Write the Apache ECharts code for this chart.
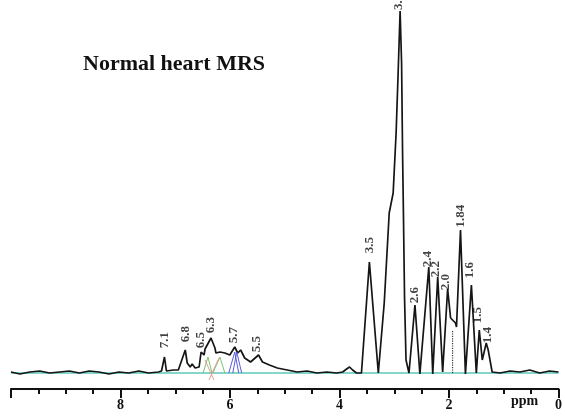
<!DOCTYPE html>
<html>
<head>
<meta charset="utf-8">
<script src="https://cdn.jsdelivr.net/npm/echarts/dist/echarts.min.js"></script>
<style>
  html, body { margin: 0; padding: 0; background: #fff; }
  #chart { width: 565px; height: 417px; }
</style>
</head>
<body>
<div id="chart"></div>
<script>
// spectrum trace, chemical shift (ppm) and intensity
let shift = [10.00, 9.837, 9.656, 9.476, 9.295, 9.114, 8.933, 8.752, 8.571, 8.391,
    8.210, 8.029, 7.848, 7.667, 7.486, 7.306, 7.251, 7.197, 7.161, 7.035,
    6.944, 6.817, 6.781, 6.727, 6.691, 6.637, 6.564, 6.528, 6.474, 6.456,
    6.347, 6.275, 6.257, 6.184, 6.094, 6.004, 5.913, 5.859, 5.805, 5.732,
    5.624, 5.479, 5.407, 5.280, 5.136, 4.955, 4.774, 4.593, 4.412, 4.231,
    4.051, 3.942, 3.870, 3.816, 3.761, 3.689, 3.599, 3.454, 3.291, 3.183,
    3.092, 3.020, 2.966, 2.929, 2.893, 2.866, 2.848, 2.830, 2.812, 2.785,
    2.731, 2.622, 2.532, 2.369, 2.297, 2.206, 2.116, 2.025, 1.971, 1.881,
    1.863, 1.790, 1.700, 1.591, 1.501, 1.447, 1.392, 1.320, 1.284, 1.212,
    1.067, 0.886, 0.705, 0.524, 0.344, 0.163, 0.00];
let intensity = [1, -1, 1, 2, 0, 1, 2, 0, 2, 1,
    -1, 1, 0, 2, 0, 1, 2, 16, 2, 3,
    3, 23, 10, 6, 9, 5, 6, 21, 18, 24,
    35, 25, 20, 21, 20, 18, 26, 20, 23, 15,
    11, 18, 11, 8, 5, 3, 1, 2, 0, 1,
    0, 1, 4, 6, 3, 0, 0, 111, 0, 70,
    160, 180, 240, 300, 362, 310, 220, 150, 75, 13,
    0, 68, -1, 106, -1, 96, 1, 84, 55, 50,
    46, 143, -1, 88, 0, 43, 13, 30, 23, 1,
    0, 2, 1, 3, 0, 2, 1];

// peak annotations
let peakText = ['7.1', '6.8', '6.5', '6.3', '5.7', '5.5', '3.5', '3.', '2.6', '2.4',
    '2.2', '2.0', '1.84', '1.6', '1.5', '1.4'];
let peakPpm = [7.197, 6.817, 6.528, 6.347, 5.931, 5.515, 3.454, 2.911, 2.622, 2.387,
    2.242, 2.061, 1.790, 1.627, 1.483, 1.302];
let peakHeight = [33, 39, 33, 48, 38, 29, 128, 368, 78, 114,
    104, 91, 157, 103, 58, 38];

// fitted component lines under the 6.5 - 5.7 ppm region
let greenA = [[6.492, 0], [6.402, 16], [6.329, 0]];
let greenB = [[6.311, 0], [6.184, 16], [6.094, 0]];
let pinkA = [[6.383, -7], [6.203, 15]];
let pinkB = [[6.456, 13], [6.293, -7]];
let blueA = [[6.022, 0], [5.913, 21], [5.841, 0]];
let blueB = [[5.949, 0], [5.877, 21], [5.787, 0]];
let dotted = [[1.935, 0], [1.935, 43]];
let baseline = [[10, 0], [0, 0]];

let myChart = echarts.init(document.getElementById('chart'));
let serif = '"Liberation Serif", "DejaVu Serif", serif';

let trace = shift.map((s, i) => [s, intensity[i]]);
let labels = peakPpm.map((p, i) => [p, peakHeight[i], peakText[i]]);

function segment(data, color) {
    return {
        type: 'line',
        data: data,
        symbol: 'none',
        silent: true,
        lineStyle: { color: color, width: 1 },
        z: 3
    };
}

let option = {
    animation: false,
    backgroundColor: '#fff',
    grid: { left: 11, right: 1, top: 0, bottom: 28 },
    graphic: [{
        type: 'text',
        left: 83,
        top: 53,
        style: { text: 'Normal heart MRS', font: 'bold 22px ' + serif, fill: '#111' }
    }, {
        type: 'text',
        left: 511,
        top: 394,
        style: { text: 'ppm', font: 'bold 14px ' + serif, fill: '#111' }
    }],
    xAxis: {
        type: 'value',
        min: 0,
        max: 10,
        interval: 2,
        inverse: true,
        axisLine: { onZero: false, lineStyle: { color: '#111', width: 2 } },
        axisTick: { length: 9, lineStyle: { color: '#111', width: 2 } },
        minorTick: { show: true, splitNumber: 4, length: 5, lineStyle: { color: '#111', width: 2 } },
        splitLine: { show: false },
        axisLabel: {
            color: '#111',
            fontFamily: serif,
            fontWeight: 'bold',
            fontSize: 14,
            margin: 9,
            formatter: v => (v === 10 ? '' : String(v))
        }
    },
    yAxis: {
        type: 'value',
        show: false,
        min: -16,
        max: 373
    },
    series: [
        {
            type: 'line',
            data: baseline,
            symbol: 'none',
            silent: true,
            lineStyle: { color: '#5cc8b8', width: 1.5 },
            z: 1
        },
        {
            type: 'line',
            data: trace,
            symbol: 'none',
            lineStyle: { color: '#151515', width: 1.7 },
            z: 2
        },
        segment(greenA, '#7cc46c'),
        segment(greenB, '#7cc46c'),
        segment(pinkA, '#e09a9a'),
        segment(pinkB, '#e09a9a'),
        segment(blueA, '#5a5ae0'),
        segment(blueB, '#5a5ae0'),
        {
            type: 'line',
            data: dotted,
            symbol: 'none',
            silent: true,
            lineStyle: { color: '#333', width: 1.2, type: 'dotted' },
            z: 3
        },
        {
            type: 'scatter',
            data: labels,
            symbolSize: 0,
            silent: true,
            label: {
                show: true,
                position: 'inside',
                rotate: 90,
                color: '#111',
                fontFamily: serif,
                fontWeight: 'bold',
                fontSize: 13,
                formatter: p => p.data[2]
            },
            z: 4
        }
    ]
};
myChart.setOption(option);
</script>
</body>
</html>
